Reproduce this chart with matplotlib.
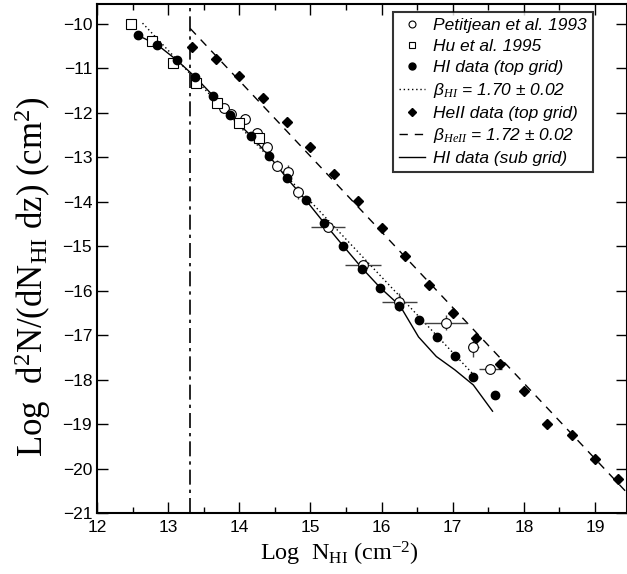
import numpy as np
import matplotlib.pyplot as plt
from matplotlib.lines import Line2D

# HI data (top grid), filled circles
hi_x = [12.57, 12.85, 13.12, 13.38, 13.63, 13.87, 14.16, 14.42, 14.67, 14.94,
        15.19, 15.46, 15.73, 15.98, 16.25, 16.52, 16.78, 17.03, 17.29, 17.60]
hi_y = [-10.25, -10.47, -10.81, -11.19, -11.61, -12.05, -12.51, -12.97, -13.47, -13.97,
        -14.47, -14.99, -15.50, -15.93, -16.34, -16.66, -17.05, -17.46, -17.95, -18.35]

# HeII data (top grid), filled diamonds
he_x = [13.33, 13.67, 14.00, 14.33, 14.67, 15.00, 15.33, 15.67, 16.00, 16.33,
        16.67, 17.00, 17.33, 17.67, 18.00, 18.33, 18.67, 19.00, 19.33]
he_y = [-10.51, -10.79, -11.17, -11.66, -12.20, -12.77, -13.37, -13.98, -14.60, -15.21,
        -15.86, -16.49, -17.06, -17.65, -18.25, -19.00, -19.25, -19.79, -20.24]

# Hu et al. 1995, open squares
hu_x = [12.48, 12.78, 13.07, 13.39, 13.68, 13.99, 14.28]
hu_y = [-10.01, -10.38, -10.87, -11.33, -11.77, -12.23, -12.57]

# Petitjean et al. 1993, open circles with error bars
pj_x = [13.79, 13.89, 14.08, 14.25, 14.39, 14.53, 14.68, 14.83, 15.25, 15.74, 16.25, 16.90, 17.29, 17.53]
pj_y = [-11.90, -12.02, -12.13, -12.45, -12.77, -13.19, -13.32, -13.79, -14.56, -15.42, -16.25, -16.72, -17.26, -17.75]
pj_xerr = [0.04, 0.04, 0.04, 0.05, 0.05, 0.05, 0.05, 0.07, 0.24, 0.25, 0.25, 0.30, 0.08, 0.16]
pj_yerr = [0.08, 0.08, 0.10, 0.10, 0.12, 0.12, 0.15, 0.15, 0.08, 0.10, 0.20, 0.17, 0.22, 0.10]

# HI data (sub grid), solid line
sub_x = [12.57, 12.85, 13.12, 13.38, 13.63, 13.87, 14.16, 14.42, 14.67, 14.94,
         15.19, 15.46, 15.73, 15.98, 16.26, 16.52, 16.77, 17.03, 17.29, 17.56]
sub_y = [-10.25, -10.47, -10.81, -11.19, -11.61, -12.05, -12.51, -12.97, -13.47, -13.97,
         -14.47, -14.99, -15.50, -15.93, -16.34, -17.04, -17.48, -17.78, -18.12, -18.71]

# fitted power laws (end points)
fit_hi_x = [12.64, 17.30]
fit_hi_y = [-9.98, -17.90]
fit_he_x = [13.31, 19.50]
fit_he_y = [-10.10, -20.63]

# vertical cut
x_cut = 13.31

plt.rcParams['font.family'] = ['Liberation Sans', 'DejaVu Sans']
plt.rcParams['mathtext.fontset'] = 'custom'
plt.rcParams['mathtext.rm'] = 'Liberation Serif'
plt.rcParams['mathtext.it'] = 'Liberation Serif:italic'

fig = plt.figure(figsize=(6.27, 5.74), dpi=100)
ax = fig.add_axes([0.1547, 0.1063, 0.8453, 0.8867])

ax.axvline(x_cut, color='black', lw=1.2, ls=(0, (9, 3, 2, 3)))
ax.plot(fit_hi_x, fit_hi_y, color='black', lw=1.0, ls=(0, (1, 2)))
ax.plot(fit_he_x, fit_he_y, color='black', lw=1.0, ls=(0, (6, 5)))
ax.plot(sub_x, sub_y, color='black', lw=1.0)

ax.errorbar(pj_x, pj_y, xerr=pj_xerr, yerr=pj_yerr, fmt='none', ecolor='0.25',
            elinewidth=1.0, capsize=0)
ax.plot(pj_x, pj_y, 'o', ms=7, mfc='white', mec='black', mew=0.8, ls='none')
ax.plot(hu_x, hu_y, 's', ms=7, mfc='white', mec='black', mew=0.8, ls='none')
ax.plot(hi_x, hi_y, 'o', ms=6, color='black', ls='none')
ax.plot(he_x, he_y, 'D', ms=5.5, color='black', ls='none')

ax.set_xlim(12, 19.45)
ax.set_ylim(-21, -9.55)
ax.set_xticks(np.arange(12, 20, 1))
ax.set_xticks(np.arange(12, 19.5, 0.5), minor=True)
ax.set_yticks(np.arange(-21, -9, 1))
ax.tick_params(which='both', direction='in', top=True, right=True, labelsize=12.5)
ax.tick_params(axis='x', which='major', pad=5)
ax.tick_params(which='major', length=8, width=1)
ax.tick_params(which='minor', length=4, width=1)
for s in ax.spines.values():
    s.set_linewidth(1.5)

ax.set_xlabel(r'Log  N$_{\mathrm{HI}}$ (cm$^{-2}$)', family='Liberation Serif', fontsize=17.5)
ax.xaxis.set_label_coords(0.458, -0.052)
ax.set_ylabel(r'Log  d$^{2}$N/(dN$_{\mathrm{HI}}$ dz) (cm$^{2}$)', family='Liberation Serif', fontsize=25)
ax.yaxis.set_label_coords(-0.083, 0.464)

handles = [
    Line2D([], [], marker='o', ms=5, mfc='white', mec='black', mew=0.8, ls='none'),
    Line2D([], [], marker='s', ms=5, mfc='white', mec='black', mew=0.8, ls='none'),
    Line2D([], [], marker='o', ms=5, color='black', ls='none'),
    Line2D([], [], color='black', lw=1.0, ls=(0, (1, 2))),
    Line2D([], [], marker='D', ms=4.5, color='black', ls='none'),
    Line2D([], [], color='black', lw=1.0, ls=(0, (6, 5))),
    Line2D([], [], color='black', lw=1.0),
]
labels = [
    'Petitjean et al. 1993',
    'Hu et al. 1995',
    'HI data (top grid)',
    'β$_{HI}$ = 1.70 ± 0.02',
    'HeII data (top grid)',
    'β$_{HeII}$ = 1.72 ± 0.02',
    'HI data (sub grid)',
]
leg = ax.legend(handles, labels, loc='upper right', bbox_to_anchor=(0.936, 0.984),
                prop={'style': 'italic', 'size': 12.5}, frameon=True, fancybox=False,
                edgecolor='black', handlelength=1.5, handletextpad=0.5,
                labelspacing=0.33, borderpad=0.35, borderaxespad=0)
leg.get_frame().set_linewidth(1.5)

fig.savefig('out.png', dpi=100)
